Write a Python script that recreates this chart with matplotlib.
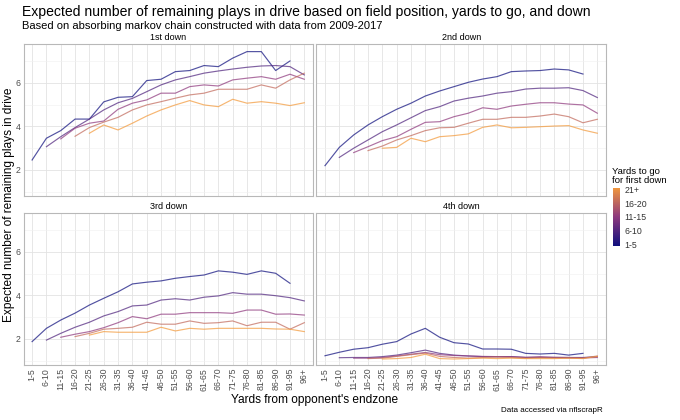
import matplotlib
matplotlib.use("Agg")
import matplotlib.pyplot as plt
import numpy as np
from matplotlib.colors import LinearSegmentedColormap

plt.rcParams['font.family'] = ['Liberation Sans', 'DejaVu Sans']

nan = np.nan

yard_bins = ['1-5', '6-10', '11-15', '16-20', '21-25', '26-30', '31-35', '36-40',
             '41-45', '46-50', '51-55', '56-60', '61-65', '66-70', '71-75', '76-80',
             '81-85', '86-90', '91-95', '96+']
togo_labels = ['1-5', '6-10', '11-15', '16-20', '21+']
downs = ['1st down', '2nd down', '3rd down', '4th down']

# expected remaining plays, one row per yards-to-go group
first_down = [
    [2.46, 3.46, 3.81, 4.34, 4.34, 5.13, 5.34, 5.37, 6.11, 6.17, 6.52, 6.57, 6.80, 6.75, 7.14, 7.44, 7.44, 6.57, 7.01, nan],
    [nan, 3.07, 3.53, 3.95, 4.34, 4.76, 5.09, 5.29, 5.60, 5.91, 6.14, 6.29, 6.45, 6.55, 6.64, 6.72, 6.78, 6.80, 6.75, 6.37],
    [nan, nan, 3.43, 3.92, 4.15, 4.25, 4.79, 5.07, 5.22, 5.53, 5.53, 5.83, 5.91, 5.86, 6.14, 6.22, 6.29, 6.17, 6.40, 6.17],
    [nan, nan, nan, 3.55, 3.95, 4.20, 4.42, 4.76, 4.99, 5.14, 5.30, 5.45, 5.53, 5.71, 5.71, 5.71, 5.91, 5.76, 6.14, 6.45],
    [nan, nan, nan, nan, 3.69, 4.07, 3.84, 4.15, 4.48, 4.76, 4.99, 5.19, 4.99, 4.91, 5.25, 5.07, 5.14, 5.07, 4.96, 5.09],
]
second_down = [
    [2.20, 3.04, 3.61, 4.07, 4.45, 4.79, 5.07, 5.40, 5.63, 5.83, 6.03, 6.18, 6.29, 6.52, 6.55, 6.57, 6.64, 6.60, 6.41, nan],
    [nan, 2.58, 3.00, 3.38, 3.76, 4.07, 4.40, 4.73, 4.91, 5.17, 5.30, 5.40, 5.53, 5.60, 5.72, 5.76, 5.76, 5.78, 5.65, 5.33],
    [nan, nan, 2.80, 3.07, 3.35, 3.53, 3.87, 4.19, 4.22, 4.45, 4.61, 4.86, 4.79, 4.94, 5.02, 5.09, 5.09, 5.03, 4.99, 4.61],
    [nan, nan, nan, 2.89, 3.10, 3.38, 3.58, 3.81, 3.94, 3.96, 4.15, 4.33, 4.33, 4.42, 4.42, 4.48, 4.57, 4.45, 4.17, 4.33],
    [nan, nan, nan, nan, 3.00, 3.04, 3.46, 3.30, 3.53, 3.58, 3.66, 3.96, 4.07, 3.94, 3.96, 3.99, 4.02, 4.04, 3.84, 3.69],
]
third_down = [
    [1.88, 2.49, 2.87, 3.19, 3.56, 3.87, 4.17, 4.53, 4.61, 4.67, 4.79, 4.87, 4.94, 5.13, 5.07, 4.97, 5.13, 5.02, 4.56, nan],
    [nan, 1.95, 2.26, 2.54, 2.77, 3.06, 3.26, 3.52, 3.56, 3.79, 3.85, 3.79, 3.92, 3.98, 4.13, 4.06, 4.06, 3.99, 3.90, 3.75],
    [nan, nan, 2.08, 2.22, 2.34, 2.52, 2.75, 3.03, 2.93, 3.14, 3.14, 3.21, 3.21, 3.21, 3.18, 3.33, 3.33, 3.14, 3.15, 3.10],
    [nan, nan, nan, 2.11, 2.26, 2.45, 2.49, 2.54, 2.77, 2.68, 2.68, 2.83, 2.72, 2.75, 2.83, 2.61, 2.77, 2.77, 2.45, 2.75],
    [nan, nan, nan, nan, 2.18, 2.34, 2.31, 2.31, 2.31, 2.54, 2.37, 2.49, 2.45, 2.49, 2.49, 2.49, 2.49, 2.46, 2.45, 2.34],
]
fourth_down = [
    [1.23, 1.39, 1.53, 1.60, 1.76, 1.88, 2.23, 2.49, 2.08, 1.83, 1.77, 1.54, 1.54, 1.53, 1.34, 1.31, 1.34, 1.26, 1.34, nan],
    [nan, 1.14, 1.15, 1.15, 1.19, 1.26, 1.37, 1.49, 1.34, 1.26, 1.22, 1.19, 1.19, 1.19, 1.15, 1.15, 1.15, 1.15, 1.15, 1.19],
    [nan, nan, 1.12, 1.12, 1.15, 1.22, 1.30, 1.38, 1.28, 1.24, 1.22, 1.20, 1.19, 1.19, 1.16, 1.19, 1.16, 1.15, 1.13, 1.15],
    [nan, nan, nan, 1.10, 1.12, 1.20, 1.28, 1.35, 1.20, 1.15, 1.12, 1.15, 1.17, 1.15, 1.12, 1.15, 1.13, 1.12, 1.12, 1.22],
    [nan, nan, nan, nan, 1.08, 1.10, 1.15, 1.30, 1.10, 1.08, 1.10, 1.12, 1.10, 1.12, 1.10, 1.10, 1.10, 1.12, 1.10, 1.20],
]
panels = [first_down, second_down, third_down, fourth_down]

cmap = LinearSegmentedColormap.from_list('togo', ['#10107e', '#8f3a7e', '#f39a3c'])

W, H = 680, 420
fig = plt.figure(figsize=(6.8, 4.2), dpi=100)

def px_rect(x0, y0, x1, y1):
    return [x0 / W, 1 - y1 / H, (x1 - x0) / W, (y1 - y0) / H]

cols = [(23.5, 312.9), (316.4, 605.9)]
rows = [(44, 196), (213, 365)]
tick_grey = '#4d4d4d'
x = np.arange(len(yard_bins))

for k, (down, data) in enumerate(zip(downs, panels)):
    r, c = divmod(k, 2)
    ax = fig.add_axes(px_rect(cols[c][0], rows[r][0], cols[c][1], rows[r][1]))
    for j, series in enumerate(data):
        ax.plot(x, series, color=cmap(j / 4), lw=0.85, alpha=0.72)
    ax.set_xlim(-0.6, len(yard_bins) - 0.4)
    ax.set_ylim(0.805, 7.79)
    ax.set_yticks([2, 4, 6])
    ax.set_yticks([1, 3, 5, 7], minor=True)
    ax.set_xticks(x)
    ax.grid(True, which='major', color='#e3e3e3', lw=0.6)
    ax.grid(True, which='minor', axis='y', color='#f0f0f0', lw=0.4)
    ax.set_axisbelow(True)
    for s in ax.spines.values():
        s.set_color('#b8b8b8')
        s.set_linewidth(0.8)
    ax.tick_params(which='both', length=0, pad=2, labelsize=6.3, colors=tick_grey)
    if r == 1:
        ax.set_xticklabels(yard_bins, rotation=90)
    else:
        ax.set_xticklabels([])
    if c == 1:
        ax.set_yticklabels([])
    ax.set_title(down, fontsize=6.5, pad=3)

fig.text(22 / W, 1 - 12 / H, "Expected number of remaining plays in drive based on field position, yards to go, and down",
         fontsize=10.1, va='center', ha='left')
fig.text(22 / W, 1 - 26 / H, "Based on absorbing markov chain constructed with data from 2009-2017",
         fontsize=8.0, va='center', ha='left')
fig.text(9 / W, 1 - 205 / H, "Expected number of remaining plays in drive", rotation=90,
         fontsize=8.6, va='center', ha='center')
fig.text(315 / W, 1 - 400 / H, "Yards from opponent's endzone", fontsize=8.6, va='center', ha='center')
fig.text(603 / W, 1 - 411 / H, "Data accessed via nflscrapR", fontsize=5.8, va='center', ha='right')

# legend: colour bar with group labels
fig.text(612 / W, 1 - 176 / H, "Yards to go\nfor first down", fontsize=6.8, va='center', ha='left',
         linespacing=1.1)
cax = fig.add_axes(px_rect(613, 188, 620, 246))
grad = np.linspace(0, 1, 256).reshape(-1, 1)
cax.imshow(grad, aspect='auto', cmap=cmap, origin='lower', extent=[0, 1, -0.1, 4.1])
cax.set_ylim(-0.1, 4.1)
cax.set_xticks([])
cax.set_yticks(range(len(togo_labels)))
cax.set_yticklabels(togo_labels)
cax.yaxis.tick_right()
cax.tick_params(length=0, pad=3, labelsize=6.3, colors='#333333')
for s in cax.spines.values():
    s.set_visible(False)

fig.savefig('out.png', dpi=100)
